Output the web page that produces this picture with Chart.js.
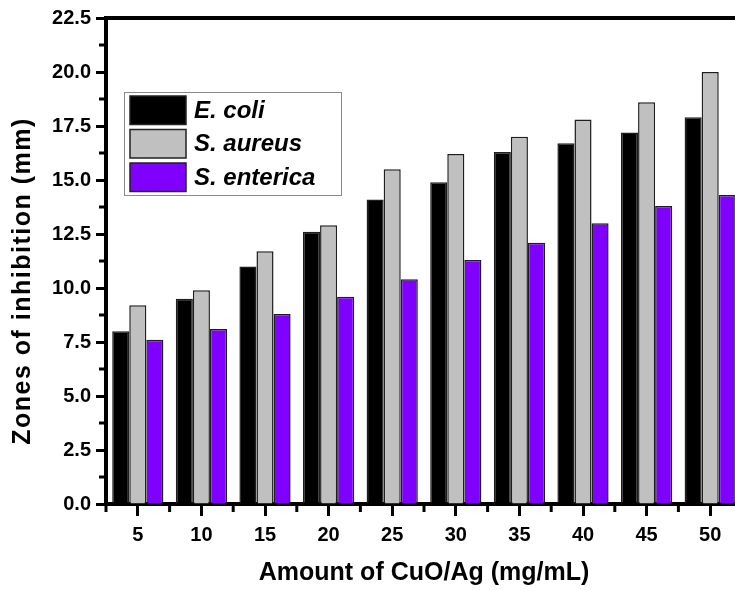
<!DOCTYPE html>
<html>
<head>
<meta charset="utf-8">
<script src="https://cdn.jsdelivr.net/npm/chart.js@4.4.1/dist/chart.umd.min.js"></script>
<style>
  html, body { margin: 0; padding: 0; background: #fff; overflow: hidden; }
  #wrap { position: relative; width: 750px; height: 590px; }
</style>
</head>
<body>
<div id="wrap"><canvas id="chart"></canvas></div>
<script>
// Concentration of CuO/Ag (mg/mL)
const concentrations = ['5', '10', '15', '20', '25', '30', '35', '40', '45', '50'];

// Zone of inhibition (mm) for each strain
const eColi     = [8.0, 9.5, 11.0, 12.6, 14.1, 14.9, 16.3, 16.7, 17.2, 17.9];
const sAureus   = [9.2, 9.9, 11.7, 12.9, 15.5, 16.2, 17.0, 17.8, 18.6, 20.0];
const sEnterica = [7.6, 8.1, 8.8, 9.6, 10.4, 11.3, 12.1, 13.0, 13.8, 14.3];

const seriesNames = ['E. coli', 'S. aureus', 'S. enterica'];
const yTitle = 'Zones of inhibition (mm)';
const xTitle = 'Amount of CuO/Ag (mg/mL)';

const FONT = "'Liberation Sans', Arial, sans-serif";

// Minor ticks, top frame line, y-axis title and boxed legend
const decorations = {
  id: 'decorations',
  afterDraw(chart) {
    const { ctx, chartArea, scales } = chart;
    const x = scales.x, y = scales.y;
    ctx.save();
    ctx.strokeStyle = '#000';
    ctx.lineWidth = 3;

    // minor y ticks midway between labelled ticks
    for (let v = 1.25; v < y.max; v += 2.5) {
      const py = y.getPixelForValue(v);
      ctx.beginPath();
      ctx.moveTo(chartArea.left - 7, py);
      ctx.lineTo(chartArea.left, py);
      ctx.stroke();
    }
    // minor x ticks on category boundaries
    const n = concentrations.length;
    const step = (x.getPixelForValue(n - 1) - x.getPixelForValue(0)) / (n - 1);
    for (let i = 0; i <= n; i++) {
      const px = x.getPixelForValue(0) - step / 2 + i * step;
      ctx.beginPath();
      ctx.moveTo(px, chartArea.bottom);
      ctx.lineTo(px, chartArea.bottom + 8);
      ctx.stroke();
    }

    // top frame line
    ctx.lineWidth = 4;
    ctx.beginPath();
    ctx.moveTo(chartArea.left - 2, chartArea.top);
    ctx.lineTo(chart.width, chartArea.top);
    ctx.stroke();

    // y-axis title
    ctx.save();
    ctx.translate(23, 281);
    ctx.rotate(-Math.PI / 2);
    ctx.font = 'bold 25px ' + FONT;
    if ('letterSpacing' in ctx) ctx.letterSpacing = '1.5px';
    ctx.fillStyle = '#000';
    ctx.textAlign = 'center';
    ctx.textBaseline = 'middle';
    ctx.fillText(yTitle, 0, 0);
    ctx.restore();

    // legend box
    const lx = 124, ly = 92, lw = 217, lh = 103;
    ctx.fillStyle = '#fff';
    ctx.fillRect(lx, ly, lw, lh);
    ctx.lineWidth = 1;
    ctx.strokeStyle = '#8a8a8a';
    ctx.strokeRect(lx + 0.5, ly + 0.5, lw, lh);
    ctx.font = 'italic bold 24px ' + FONT;
    ctx.textAlign = 'left';
    ctx.textBaseline = 'middle';
    chart.data.datasets.forEach((ds, i) => {
      const top = 96 + i * 33.5;
      ctx.fillStyle = ds.backgroundColor;
      ctx.fillRect(130, top, 56, 28.5);
      ctx.lineWidth = 1.5;
      ctx.strokeStyle = '#222';
      ctx.strokeRect(130, top, 56, 28.5);
      ctx.fillStyle = '#000';
      ctx.fillText(ds.label, 194, top + 15);
    });
    ctx.restore();
  }
};

const barStyle = { borderColor: '#1e1e1e', borderWidth: 1.5, borderSkipped: 'start',
                   categoryPercentage: 0.805, barPercentage: 1.0 };

new Chart(document.getElementById('chart'), {
  type: 'bar',
  data: {
    labels: concentrations,
    datasets: [
      { label: seriesNames[0], data: eColi,     backgroundColor: '#000000', ...barStyle },
      { label: seriesNames[1], data: sAureus,   backgroundColor: '#c0c0c0', ...barStyle },
      { label: seriesNames[2], data: sEnterica, backgroundColor: '#8000ff', ...barStyle }
    ]
  },
  options: {
    responsive: true,
    maintainAspectRatio: false,
    animation: false,
    layout: { padding: { top: 18, right: 8, bottom: 0, left: 0 } },
    plugins: { legend: { display: false }, tooltip: { enabled: false } },
    scales: {
      x: {
        z: 1,
        grid: { display: true, drawOnChartArea: false, offset: false,
                tickLength: 12, tickWidth: 3, tickColor: '#000' },
        border: { display: true, width: 4, color: '#000' },
        ticks: { color: '#000', font: { family: FONT, size: 20, weight: 'bold' }, padding: 7,
                 maxRotation: 0 },
        title: { display: true, text: xTitle, color: '#000',
                 font: { family: FONT, size: 25, weight: 'bold' }, padding: { top: 0, bottom: 2 } },
        afterFit(scale) { scale.height = 86; }
      },
      y: {
        z: 1,
        min: 0,
        max: 22.5,
        grid: { display: true, drawOnChartArea: false,
                tickLength: 10, tickWidth: 3, tickColor: '#000' },
        border: { display: true, width: 4, color: '#000' },
        ticks: { stepSize: 2.5, color: '#000', padding: 5,
                 font: { family: FONT, size: 20, weight: 'bold' },
                 callback: v => Number(v).toFixed(1) },
        title: { display: false },
        afterFit(scale) { scale.width = 106; }
      }
    }
  },
  plugins: [decorations]
});
</script>
</body>
</html>
